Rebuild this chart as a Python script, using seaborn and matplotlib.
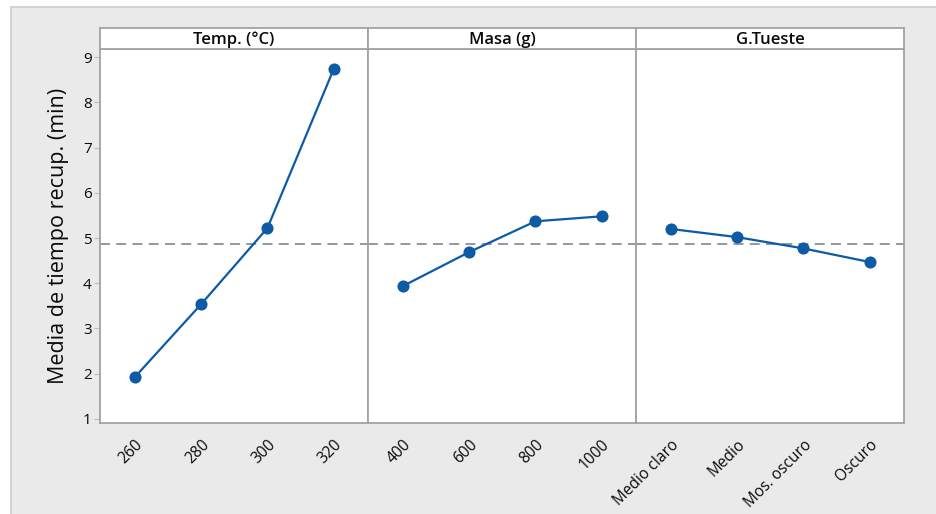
import matplotlib
matplotlib.use("Agg")
import matplotlib.pyplot as plt
from matplotlib.patches import Rectangle
import seaborn as sns
import pandas as pd
import numpy as np

# Main effects data: mean recovery time (min) per factor level
temp_levels = ["260", "280", "300", "320"]
temp_means = [1.93, 3.54, 5.22, 8.73]

masa_levels = ["400", "600", "800", "1000"]
masa_means = [3.94, 4.69, 5.37, 5.48]

tueste_levels = ["Medio claro", "Medio", "Mos. oscuro", "Oscuro"]
tueste_means = [5.20, 5.02, 4.77, 4.47]

factor_titles = ["Temp. (°C)", "Masa (g)", "G.Tueste"]
y_label = "Media de tiempo recup. (min)"
y_ticks = [1, 2, 3, 4, 5, 6, 7, 8, 9]

grand_mean = float(np.mean(temp_means + masa_means + tueste_means))

frames = []
for title, levels, means in zip(factor_titles,
                                [temp_levels, masa_levels, tueste_levels],
                                [temp_means, masa_means, tueste_means]):
    frames.append(pd.DataFrame({"factor": title, "level": levels, "mean": means}))
df = pd.concat(frames, ignore_index=True)

sns.set_theme(style="white")
plt.rcParams["font.family"] = ["Open Sans", "DejaVu Sans"]

W, H = 937, 514
fig = plt.figure(figsize=(W / 100, H / 100), dpi=100)
fig.patch.set_facecolor("white")

# light gray chart background
fig.add_artist(Rectangle((11 / W, -0.01), 1.0, 1 - 7 / H + 0.01, transform=fig.transFigure,
                         facecolor="#eaeaea", edgecolor="#cdcdcd", linewidth=1.2, zorder=-10))

line_color = "#0d5aa7"
frame_color = "#a2a2a2"
ref_color = "#8a8e9e"
text_color = "#0a0a0a"

left_px, right_px = 100, 904
top_px, bottom_px, header_top_px = 49, 423, 28
panel_w = (right_px - left_px) / 3

axes = []
for i, title in enumerate(factor_titles):
    x0 = (left_px + i * panel_w) / W
    ax = fig.add_axes([x0, 1 - bottom_px / H, panel_w / W, (bottom_px - top_px) / H])
    sub = df[df["factor"] == title]
    ax.axhline(grand_mean, color=ref_color, linestyle=(0, (5.5, 3.5)), linewidth=1.3, zorder=1)
    sns.pointplot(data=sub, x="level", y="mean", order=list(sub["level"]), ax=ax,
                  color=line_color, markers="o", linewidth=1.6, markersize=7.5, zorder=3)
    ax.set_xlim(-0.53, 3.52)
    ax.set_ylim(0.91, 9.18)
    ax.set_facecolor("white")
    ax.set_xlabel("")
    ax.set_ylabel("")
    for s in ax.spines.values():
        s.set_color(frame_color)
        s.set_linewidth(1.3)
    ax.tick_params(axis="x", length=4, width=0.8, color="#cccccc", pad=6,
                   labelsize=11.2, labelcolor=text_color)
    plt.setp(ax.get_xticklabels(), rotation=45, ha="right", rotation_mode="anchor")
    if i == 0:
        ax.set_yticks(y_ticks)
        ax.tick_params(axis="y", length=4, width=0.8, color="#bdbdbd", pad=2,
                       labelsize=11, labelcolor=text_color, left=True)
        ax.set_ylabel(y_label, fontsize=15.5, color=text_color, labelpad=10)
    else:
        ax.set_yticks(y_ticks)
        ax.tick_params(axis="y", left=False, labelleft=False)

    # facet header
    hax = fig.add_axes([x0, 1 - top_px / H, panel_w / W, (top_px - header_top_px) / H])
    hax.set_facecolor("white")
    hax.set_xticks([])
    hax.set_yticks([])
    for s in hax.spines.values():
        s.set_color(frame_color)
        s.set_linewidth(1.3)
    hax.text(0.5, 0.42, title, ha="center", va="center", fontsize=12,
             fontweight="semibold", color=text_color, transform=hax.transAxes)
    axes.append(ax)

fig.savefig("out.png", dpi=100, facecolor=fig.get_facecolor())
